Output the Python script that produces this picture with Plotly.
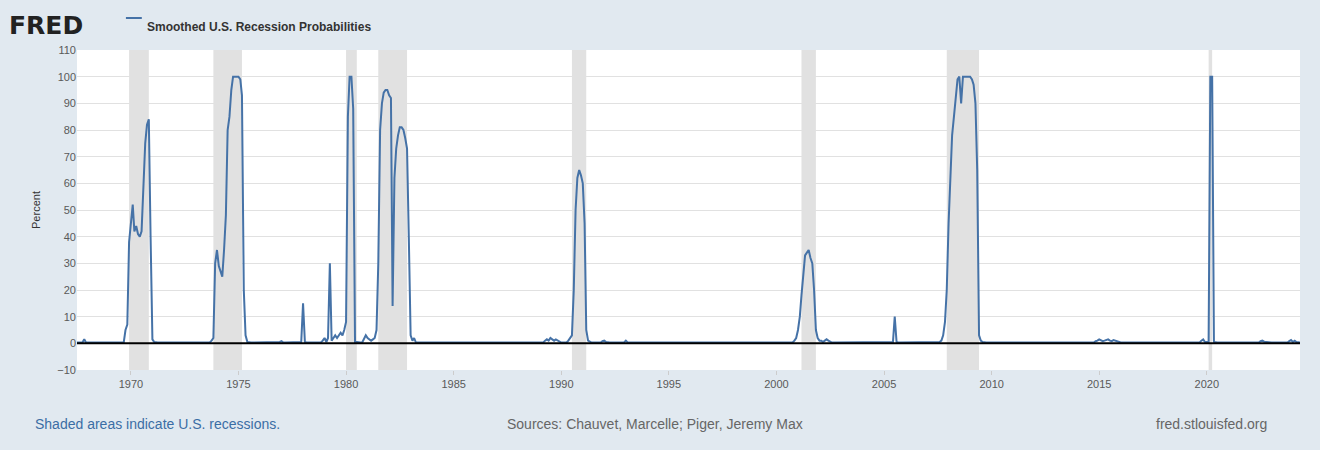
import plotly.graph_objects as go
import pandas as pd

# --- data: monthly smoothed recession probabilities (percent) ---
baseline_value = 0.3
episodes = {
    "1967-11": [1.5, 0.3],
    "1969-10": [5, 7, 38, 44, 52, 42, 44, 41, 40, 42, 60, 75, 82, 84, 40, 1.5, 0.5],
    "1973-10": [1, 2, 30, 35, 29, 27, 25, 35, 48, 80, 85, 95, 100, 100, 100, 100, 99, 93, 20, 3, 0.5],
    "1976-12": [0.5, 0.8, 0.3],
    "1977-12": [0.5, 15, 0.5, 0.3],
    "1978-12": [1, 2, 0.5, 2, 30, 1, 2, 3, 2, 3, 4, 3, 5, 8, 85, 100, 100, 88, 0.5, 0.5],
    "1980-11": [2, 3, 2, 1.5, 1, 1.5, 2, 5, 30, 80, 90, 94, 95, 95, 93, 92, 14, 62, 73, 78, 81, 81, 80, 77, 73, 40, 3, 1, 2, 0.3],
    "1989-04": [1, 1.5, 1, 2, 1.5, 1, 1.5, 1, 0.5],
    "1990-05": [1, 2, 3, 20, 50, 62, 65, 63, 60, 45, 5, 1, 0.5],
    "1991-12": [0.8, 1, 0.5],
    "1993-01": [1, 0.3],
    "2000-11": [1, 2, 5, 10, 18, 25, 33, 34, 35, 32, 30, 20, 5, 2, 1, 1, 0.5, 1, 1.5, 1, 0.5],
    "2005-06": [0.5, 10, 0.5],
    "2007-08": [0.5, 1, 3, 8, 20, 45, 65, 78, 85, 92, 99, 100, 90, 100, 100, 100, 100, 100, 99, 97, 90, 65, 3, 1, 0.5],
    "2014-11": [0.8, 1, 1.5, 1.2, 0.8, 1, 1.2, 1.5, 1, 0.8, 1.2, 1, 0.5],
    "2019-10": [1, 1.5, 0.5, 0.5, 0.5, 100, 100, 0.5],
    "2022-07": [0.8, 1, 0.6, 0.5],
    "2023-11": [0.8, 1.2, 0.5, 1, 0.5],
}
recessions = [("1969-12-01", "1970-11-01"), ("1973-11-01", "1975-03-01"),
              ("1980-01-01", "1980-07-01"), ("1981-07-01", "1982-11-01"),
              ("1990-07-01", "1991-03-01"), ("2001-03-01", "2001-11-01"),
              ("2007-12-01", "2009-06-01"), ("2020-02-01", "2020-04-01")]
y_ticks = [-10, 0, 10, 20, 30, 40, 50, 60, 70, 80, 90, 100, 110]
x_ticks = [1970, 1975, 1980, 1985, 1990, 1995, 2000, 2005, 2010, 2015, 2020]

dates = pd.date_range("1967-06-01", "2024-05-01", freq="MS")
series = pd.Series(baseline_value, index=dates)
for start, vals in episodes.items():
    idx = pd.date_range(start + "-01", periods=len(vals), freq="MS")
    series.loc[idx] = vals

fig = go.Figure()
for a, b in recessions:
    fig.add_vrect(x0=a, x1=b, fillcolor="#e1e1e1", line_width=0, layer="below")
fig.add_trace(go.Scatter(x=series.index, y=series.values, mode="lines",
                         line=dict(color="#4572a7", width=2), showlegend=False))
fig.add_hline(y=0, line=dict(color="black", width=2))

fig.update_layout(
    width=1320, height=450, paper_bgcolor="#e1e9f0", plot_bgcolor="white",
    margin=dict(l=77, r=20, t=50, b=80),
    font=dict(family="Liberation Sans, Arial", size=11, color="#595959"),
    xaxis=dict(range=["1967-07-01", "2024-05-01"],
               tickvals=[f"{y}-01-01" for y in x_ticks], ticktext=[str(y) for y in x_ticks],
               showgrid=False, ticks="outside", ticklen=4, tickcolor="#cccccc", showline=False),
    yaxis=dict(range=[-10, 110], tickvals=y_ticks, gridcolor="#e1e1e1", zeroline=False,
               title=dict(text="Percent", standoff=14, font=dict(size=11, color="#333")),
               ticks="", tickfont=dict(color="#595959")),
)
fig.add_annotation(xref="paper", yref="paper", x=-0.057, y=1.0, yanchor="bottom", yshift=8,
                   xanchor="left", showarrow=False,
                   text="<b>FRED</b>", font=dict(family="DejaVu Sans, Arial", size=25, color="#222"))
fig.add_shape(type="line", xref="paper", yref="paper", x0=0.04, x1=0.053, y0=1.1, y1=1.1,
              line=dict(color="#4572a7", width=2))
fig.add_annotation(xref="paper", yref="paper", x=0.056, y=1.1, xanchor="left", showarrow=False,
                   text="<b>Smoothed U.S. Recession Probabilities</b>",
                   font=dict(size=12, color="#333"))
fig.add_annotation(xref="paper", yref="paper", x=-0.036, y=-0.2, xanchor="left", showarrow=False,
                   text="Shaded areas indicate U.S. recessions.", font=dict(size=14, color="#3b6ea5"))
fig.add_annotation(xref="paper", yref="paper", x=0.473, y=-0.2, xanchor="center", showarrow=False,
                   text="Sources: Chauvet, Marcelle; Piger, Jeremy Max", font=dict(size=14, color="#666"))
fig.add_annotation(xref="paper", yref="paper", x=0.975, y=-0.2, xanchor="right", showarrow=False,
                   text="fred.stlouisfed.org", font=dict(size=14, color="#666"))
fig.write_html("out.html", post_script="document.body.style.margin='0';",
               config={"displayModeBar": False})
